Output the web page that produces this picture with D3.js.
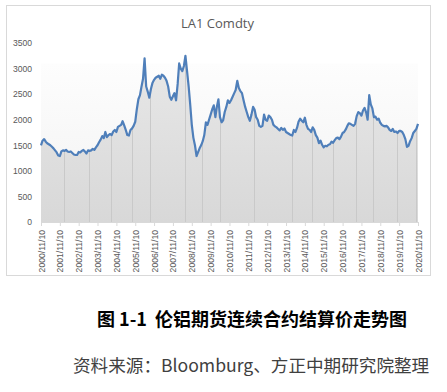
<!DOCTYPE html>
<html><head><meta charset="utf-8">
<script src="https://cdn.jsdelivr.net/npm/d3@7"></script>
<style>
body{margin:0;background:#fff;}
svg{display:block;}
</style></head>
<body>
<svg id="c" width="447" height="392"></svg>
<script>
// ---- data ----
const startMonth = "2000-11";
const values = [
// 2000 Nov-Dec
1500,1590,
// 2001
1620,1570,1540,1520,1500,1470,1440,1400,1360,1300,1290,1380,
// 2002
1400,1390,1410,1380,1370,1380,1350,1320,1310,1310,1370,1360,
// 2003
1390,1410,1380,1340,1400,1390,1400,1430,1410,1460,1500,1560,
// 2004
1610,1680,1640,1760,1660,1700,1720,1700,1770,1800,1760,1860,
// 2005
1880,1900,1970,1890,1800,1700,1690,1800,1830,1880,1960,2200,
// 2006
2400,2480,2640,2800,3200,2650,2550,2430,2600,2720,2780,2820,
// 2007
2840,2860,2800,2880,2860,2820,2760,2650,2450,2390,2460,2520,
// 2008
2380,2700,3100,3000,2950,3050,3250,2950,2650,2300,1900,1650,
// 2009
1500,1290,1360,1440,1500,1580,1700,1950,1900,2000,2100,2200,
// 2010
2280,2050,2250,2400,2050,1950,1990,2150,2250,2380,2330,2380,
// 2011
2450,2520,2580,2760,2620,2560,2520,2380,2250,2150,2050,1980,
// 2012
2100,2250,2200,2050,2000,1880,1860,1880,2100,2000,1980,2080,
// 2013
2050,2000,1900,1870,1850,1820,1790,1840,1800,1830,1760,1740,
// 2014
1720,1700,1690,1800,1760,1840,1960,2020,1980,1950,2040,1900,
// 2015
1820,1800,1760,1850,1800,1700,1650,1540,1590,1510,1460,1490,
// 2016
1480,1510,1520,1570,1550,1600,1640,1650,1620,1670,1740,1760,
// 2017
1810,1880,1930,1920,1900,1880,1920,2070,2150,2130,2080,2180,
// 2018
2230,2140,2000,2480,2300,2220,2050,2060,2000,2020,1940,1900,
// 2019
1880,1870,1880,1850,1800,1780,1820,1760,1770,1740,1780,1780,
// 2020
1760,1700,1620,1470,1490,1580,1640,1740,1780,1820,1920
];
const tickLabels = ["2000/11/10","2001/11/10","2002/11/10","2003/11/10","2004/11/10","2005/11/10","2006/11/10","2007/11/10","2008/11/10","2009/11/10","2010/11/10","2011/11/10","2012/11/10","2013/11/10","2014/11/10","2015/11/10","2016/11/10","2017/11/10","2018/11/10","2019/11/10","2020/11/10"];
const yTicks = [0,500,1000,1500,2000,2500,3000,3500];
const seamDates = ["2002-02","2003-06","2004-08","2005-09","2006-09","2008-07","2009-06","2010-05","2012-03","2014-03","2015-04","2016-05","2017-08","2018-07","2019-10","2020-10"];
const title = "LA1 Comdty";
const caption = "图 1-1\u00a0\u00a0伦铝期货连续合约结算价走势图";
const source = "资料来源：Bloomburg、方正中期研究院整理";

// ---- build ----
const pm = d3.timeParse("%Y-%m");
const pd = d3.timeParse("%Y/%m/%d");
const s0 = pm(startMonth);
const data = values.map((v,i)=>{ const dt = d3.timeMonth.offset(s0,i); dt.setDate(10); return {date:dt, v:v}; });

const svg = d3.select("#c");
const L=41,R=418,T=43,B=222;
const x = d3.scaleTime().domain([pd(tickLabels[0]), pd(tickLabels[tickLabels.length-1])]).range([L,R]);
const y = d3.scaleLinear().domain([0,3500]).range([B,T]);

const defs = svg.append("defs");
const g1 = defs.append("linearGradient").attr("id","bgG").attr("x1",0).attr("y1",0).attr("x2",0).attr("y2",1);
g1.append("stop").attr("offset","0%").attr("stop-color","#fdfdfd");
g1.append("stop").attr("offset","100%").attr("stop-color","#f2f2f2");
const g2 = defs.append("linearGradient").attr("id","arG").attr("gradientUnits","userSpaceOnUse").attr("x1",0).attr("y1",y(3100)).attr("x2",0).attr("y2",B);
g2.append("stop").attr("offset","0%").attr("stop-color","#e7e7e7");
g2.append("stop").attr("offset","100%").attr("stop-color","#d8d8d8");

// outer frame
svg.append("rect").attr("x",6.5).attr("y",5.5).attr("width",424).attr("height",270)
  .attr("fill","#fff").attr("stroke","#d9d9d9");

// title
svg.append("text").attr("x",217.5).attr("y",28).attr("text-anchor","middle")
  .attr("font-family","'Open Sans','Liberation Sans',sans-serif").attr("font-size",13).attr("fill","#595959").text(title);

// background band
svg.append("rect").attr("x",L).attr("y",y(3100)).attr("width",R-L).attr("height",B-y(3100)).attr("fill","url(#bgG)");

// area
const area = d3.area().x(d=>x(d.date)).y0(B).y1(d=>y(d.v));
const line = d3.line().x(d=>x(d.date)).y(d=>y(d.v));
defs.append("clipPath").attr("id","areaClip").append("path").attr("d",area(data));
svg.append("path").attr("d",area(data)).attr("fill","url(#arG)");

// seams
svg.append("g").attr("clip-path","url(#areaClip)").selectAll("line").data(seamDates).join("line")
  .attr("x1",d=>Math.round(x(pm(d)))+0.5).attr("x2",d=>Math.round(x(pm(d)))+0.5)
  .attr("y1",T).attr("y2",B).attr("stroke","#c9c9c9").attr("stroke-width",1);

// line
svg.append("path").attr("d",line(data)).attr("fill","none").attr("stroke","#4f7fba")
  .attr("stroke-width",2.2).attr("stroke-linejoin","round");

// x axis
const xa = svg.append("g").attr("transform",`translate(0,${B})`)
  .call(d3.axisBottom(x).tickValues(tickLabels.map(pd)).tickSize(4).tickFormat((d,i)=>tickLabels[i]));
xa.select(".domain").attr("stroke","#d9d9d9");
xa.selectAll(".tick line").attr("stroke","#d9d9d9");
xa.selectAll(".tick text").attr("font-family","'Liberation Sans',sans-serif").attr("font-size",8.6).attr("fill","#595959")
  .attr("transform","rotate(-90)").attr("text-anchor","end").attr("x",-8).attr("y",0).attr("dy","0.35em");

// y axis
const ya = svg.append("g").attr("transform",`translate(${L},0)`)
  .call(d3.axisLeft(y).tickValues(yTicks).tickSize(0).tickPadding(9).tickFormat(d3.format("d")));
ya.select(".domain").remove();
ya.selectAll(".tick text").attr("font-family","'Liberation Sans',sans-serif").attr("font-size",8.6).attr("fill","#595959");

// caption
svg.append("text").attr("x",252).attr("y",326).attr("text-anchor","middle")
  .attr("font-family","'Noto Sans CJK SC',sans-serif").attr("font-weight","bold").attr("font-size",18).attr("fill","#000")
  .text(caption);
svg.append("text").attr("x",73).attr("y",372).attr("text-anchor","start")
  .attr("font-family","'Noto Sans CJK SC',sans-serif").attr("font-size",17.6).attr("fill","#404040").text(source);
</script>
</body></html>
